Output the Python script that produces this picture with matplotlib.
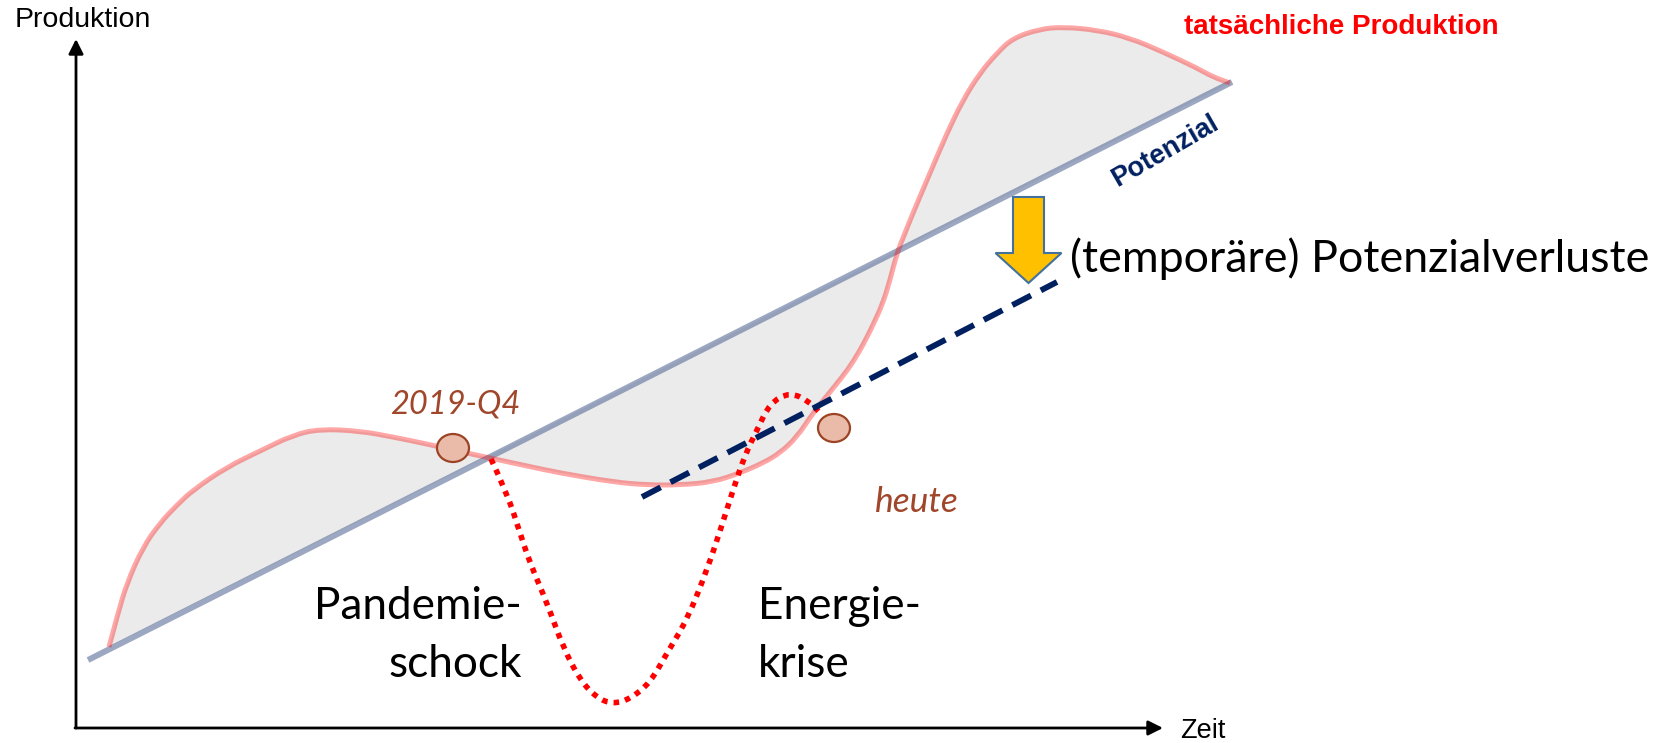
import matplotlib.pyplot as plt
from matplotlib.patches import Ellipse, FancyArrow, PathPatch
from matplotlib.path import Path

# schematic: x = Zeit, y = Produktion (arbitrary units, origin at axis corner)
prod_x = [33, 42, 51, 67, 84, 101, 117, 151, 184, 217, 244, 284, 317, 351, 377, 414, 451, 484,
          537, 571, 604, 637, 664, 687, 704, 721, 737, 754, 767, 777, 787, 797, 807, 814, 821,
          829, 837, 854, 871, 887, 904, 921, 937, 964, 987, 1021, 1054, 1087, 1121, 1137, 1154]
prod_y = [81, 115, 145, 181, 205, 223, 238, 261, 277, 293, 299, 297, 291, 284, 278, 270, 262, 255,
          246, 243, 243, 246, 255, 265, 275, 291, 315, 336, 352, 366, 383, 403, 425, 448, 475,
          495, 515, 555, 595, 628, 655, 675, 690, 699, 701, 698, 690, 676, 660, 651, 645]

pot_x = [12, 1156]
pot_y = [68, 646]

shock_x = [415, 431, 444, 454, 471, 487, 504, 521, 537, 554, 574, 591, 611, 631, 646, 657,
           669, 681, 694, 714, 734, 744]
shock_y = [269, 235, 195, 165, 125, 81, 48, 30, 24, 29, 45, 75, 108, 158, 203, 238,
           273, 298, 325, 336, 326, 315]

new_pot_x = [566, 981]
new_pot_y = [231, 446]

marker_x = [377, 758]
marker_y = [280, 300]

brown = '#A0462A'
navy = '#002060'
big = 'Lato'
arial = 'Liberation Sans'


def smooth(xs, ys):
    # quadratic bezier through the midpoints, read points act as control points
    verts = [(xs[0], ys[0])]
    codes = [Path.MOVETO]
    for i in range(1, len(xs) - 1):
        verts += [(xs[i], ys[i]), ((xs[i] + xs[i + 1]) / 2, (ys[i] + ys[i + 1]) / 2)]
        codes += [Path.CURVE3, Path.CURVE3]
    verts.append((xs[-1], ys[-1]))
    codes.append(Path.LINETO)
    return verts, codes


fig = plt.figure(figsize=(16.69, 7.43), dpi=100)
ax = fig.add_axes([0, 0, 1, 1])
ax.set_xlim(-76, 1593)
ax.set_ylim(-15, 728)
ax.axis('off')

pv, pc = smooth(prod_x, prod_y)
sv, sc = smooth(shock_x, shock_y)

# grey area between actual production and potential
ax.add_patch(PathPatch(Path(pv + [(prod_x[0], prod_y[0]), (0, 0)], pc + [Path.LINETO, Path.CLOSEPOLY]),
                       facecolor='#EBEBEB', lw=0, zorder=1))

ax.plot(pot_x, pot_y, color='#5B6F99', alpha=0.6, lw=4.3, solid_capstyle='butt', zorder=2)
ax.add_patch(PathPatch(Path(pv, pc), facecolor='none', edgecolor='#FF0000', alpha=0.35, lw=3.6, zorder=3))
ax.add_patch(PathPatch(Path(sv, sc), facecolor='none', edgecolor='#FF0000', lw=4,
                       linestyle=(0, (1, 1.1)), zorder=4))
ax.plot(new_pot_x, new_pot_y, color=navy, lw=4.2, linestyle=(0, (3.6, 1.9)), zorder=5)

for mx, my in zip(marker_x, marker_y):
    ax.add_patch(Ellipse((mx, my), 32, 28, facecolor='#EBBBA9', edgecolor='#9C4326', lw=1.6, zorder=6))

ax.add_patch(FancyArrow(952.5, 531, 0, -86, width=31, head_width=66, head_length=30,
                        length_includes_head=True, facecolor='#FFC000', edgecolor='#41719C',
                        lw=1.5, zorder=6))

# axes with arrow heads
ax.annotate('', xy=(0, 689), xytext=(0, 0),
            arrowprops=dict(arrowstyle='-|>', color='black', lw=2, mutation_scale=22, shrinkA=0, shrinkB=0))
ax.annotate('', xy=(1087, 0), xytext=(-1, 0),
            arrowprops=dict(arrowstyle='-|>', color='black', lw=2, mutation_scale=22, shrinkA=0, shrinkB=0))

ax.text(-61, 708, 'Produktion', family=arial, fontsize=20.5, va='center', ha='left')
ax.text(1104, -3, 'Zeit', family=arial, fontsize=19.5, va='center', ha='left')
ax.text(1108, 701, 'tatsächliche Produktion', family=arial, fontsize=20, weight='bold',
        color='#FF0000', va='center', ha='left')
ax.text(1089, 577, 'Potenzial', family=arial, fontsize=19.5, weight='bold', color=navy,
        rotation=30, rotation_mode='anchor', va='center', ha='center')

ax.text(994, 469, '(temporäre) Potenzialverluste', family=big, fontsize=32.2, va='center', ha='left')
ax.text(314, 323, '2019-Q4', family=big, fontsize=23.5, style='italic', color=brown, va='center', ha='left')
ax.text(799, 226, 'heute', family=big, fontsize=25.5, style='italic', color=brown, va='center', ha='left')

ax.text(446, 109, 'Pandemie-', family=big, fontsize=31.8, ha='right', va='baseline')
ax.text(446, 51, 'schock', family=big, fontsize=31.8, ha='right', va='baseline')
ax.text(682, 109, 'Energie-', family=big, fontsize=31.8, ha='left', va='baseline')
ax.text(682, 51, 'krise', family=big, fontsize=31.8, ha='left', va='baseline')

fig.savefig('out.png', dpi=100)
